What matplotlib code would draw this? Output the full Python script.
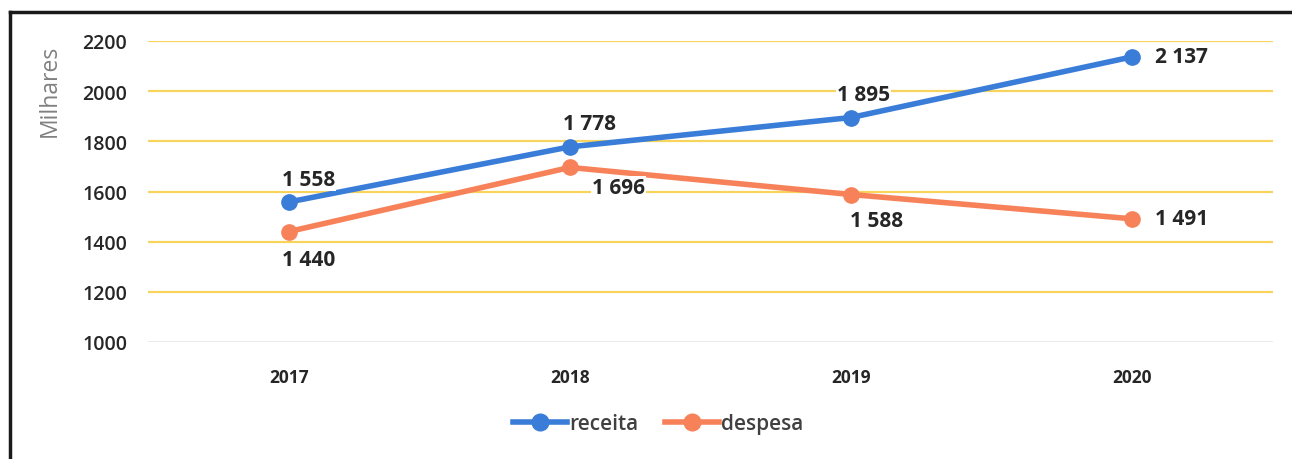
import matplotlib.pyplot as plt
from matplotlib.lines import Line2D

# data
years = ['2017', '2018', '2019', '2020']
receita = [1558, 1778, 1895, 2137]
despesa = [1440, 1696, 1588, 1491]
yticks = [1000, 1200, 1400, 1600, 1800, 2000, 2200]

# label offsets in pixels (dx, dy)
receita_off = [(20, 23), (20, 23), (12, 23), (23, 0)]
despesa_off = [(20, -28), (49, -20), (25, -26), (23, 0)]
receita_ha = ['center', 'center', 'center', 'left']
despesa_ha = ['center', 'center', 'center', 'left']

blue = '#3A7DD8'
orange = '#F7825A'

plt.rcParams['font.family'] = ['Open Sans', 'DejaVu Sans']

fig = plt.figure(figsize=(12.92, 4.6), dpi=100)
ax = fig.add_axes([148 / 1292, 1 - 343 / 460, 1125 / 1292, 301 / 460])

x = list(range(len(years)))

# gridlines
for v in yticks:
    if v == 1000:
        ax.axhline(v, color='#E8E8E8', lw=1.2, zorder=0)
    else:
        ax.axhline(v, color='#F9D45C', lw=1.6, zorder=0)

ax.plot(x, receita, color=blue, lw=4, marker='o', ms=11, zorder=3, clip_on=False)
ax.plot(x, despesa, color=orange, lw=4, marker='o', ms=11, zorder=3, clip_on=False)

box = dict(boxstyle='square,pad=0.05', fc='white', ec='none')
for i in x:
    ax.annotate(f'{receita[i]:,}'.replace(',', ' '), (i, receita[i]),
                xytext=receita_off[i], textcoords='offset pixels',
                ha=receita_ha[i], va='center', fontsize=15, fontweight='bold',
                color='#262626', bbox=box, zorder=4)
    ax.annotate(f'{despesa[i]:,}'.replace(',', ' '), (i, despesa[i]),
                xytext=despesa_off[i], textcoords='offset pixels',
                ha=despesa_ha[i], va='center', fontsize=15, fontweight='bold',
                color='#262626', bbox=box, zorder=4)

ax.set_xlim(-0.5, 3.5)
ax.set_ylim(1000, 2200)
ax.set_xticks(x)
ax.set_xticklabels(years, fontsize=12.5, fontweight='bold', color='#262626')
ax.set_yticks(yticks)
ax.set_yticklabels([str(v) for v in yticks], fontsize=14, fontweight='semibold',
                   color='#262626')
ax.tick_params(axis='both', length=0)
ax.tick_params(axis='x', pad=19)
ax.tick_params(axis='y', pad=15)
for s in ax.spines.values():
    s.set_visible(False)

# axis title sits near the top, as in the original
fig.text(50 / 1292, 1 - 91 / 460, 'Milhares', rotation=90, ha='center',
         va='center', fontsize=16.5, color='#808080')

handles = [Line2D([], [], color=blue, lw=4, marker='o', ms=12),
           Line2D([], [], color=orange, lw=4, marker='o', ms=12)]
fig.legend(handles, ['receita', 'despesa'], loc='center',
           bbox_to_anchor=(658 / 1292, 1 - 425 / 460), ncol=2, frameon=False,
           prop={'size': 15, 'weight': 'semibold'}, labelcolor='#404040',
           handlelength=2.6, handletextpad=0.1, columnspacing=1.3)

# scan frame border (top and left)
fig.add_artist(Line2D([10 / 1292, 1], [1 - 13 / 460, 1 - 13 / 460],
                      color='#1A1A1A', lw=2.5, transform=fig.transFigure))
fig.add_artist(Line2D([10 / 1292, 10 / 1292], [0, 1 - 13 / 460],
                      color='#1A1A1A', lw=2.5, transform=fig.transFigure))

fig.savefig('out.png', dpi=100)
